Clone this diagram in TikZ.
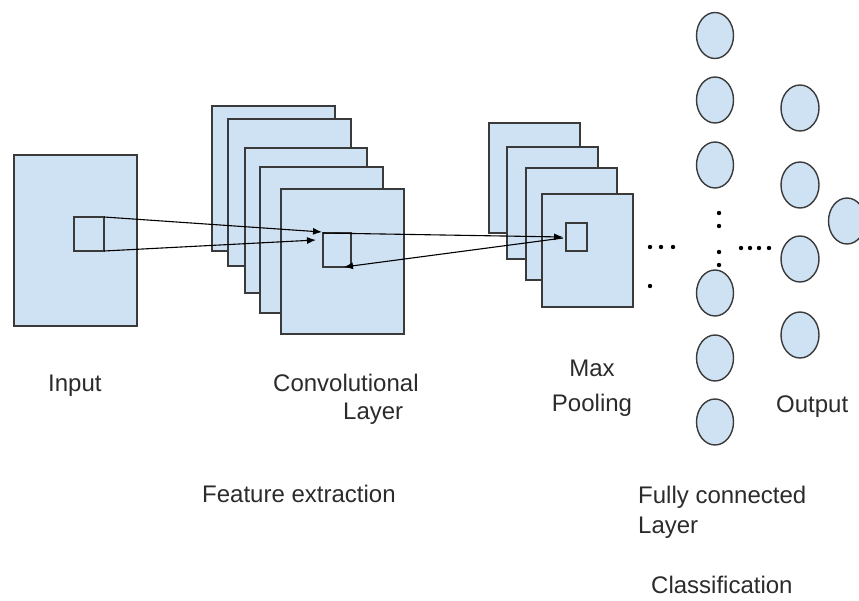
\documentclass[tikz,border=0pt]{standalone}
\usepackage{fontspec}
\setmainfont{Liberation Sans}
\usetikzlibrary{arrows.meta,calc,shapes.geometric}
\definecolor{cellfill}{HTML}{CFE2F3}
\definecolor{edge}{HTML}{3A3A3A}
\definecolor{ink}{HTML}{2B2B2B}

\begin{document}
\begin{tikzpicture}[x=1pt,y=-1pt,
  sheet/.style={draw=edge, fill=cellfill, line width=1.4pt, inner sep=0pt,
    outer sep=0pt, anchor=north west},
  patch/.style={draw=edge, fill=cellfill, line width=1.4pt, inner sep=0pt,
    outer sep=0pt, anchor=north west},
  unit/.style={ellipse, draw=edge, fill=cellfill, line width=1.4pt,
    minimum width=37pt, minimum height=46pt, inner sep=0pt},
  link/.style={draw=black, line width=1.1pt, -{Latex[length=9pt,width=7pt]}},
  lbl/.style={font=\fontsize{24}{28}\selectfont, text=ink, inner sep=0pt,
    anchor=base west},
  dotmark/.style={fill=black}
]
\useasboundingbox (0,0) rectangle (859,600);
\clip (0,0) rectangle (859,600);

% input image and its receptive field
\node[sheet, minimum width=123pt, minimum height=171pt] (in) at (14,155) {};
\node[patch, minimum width=30pt, minimum height=34pt] (insq) at (74,217) {};

% stack of convolution feature maps
\node[sheet, minimum width=123pt, minimum height=145pt] (c1) at (212,106) {};
\node[sheet, minimum width=123pt, minimum height=147pt] (c2) at (228,119) {};
\node[sheet, minimum width=122pt, minimum height=145pt] (c3) at (245,148) {};
\node[sheet, minimum width=123pt, minimum height=146pt] (c4) at (260,167) {};
\node[sheet, minimum width=123pt, minimum height=145pt] (c5) at (281,189) {};
\node[patch, minimum width=28pt, minimum height=34pt] (csq) at (323,233) {};

% stack of pooled maps
\node[sheet, minimum width=91pt, minimum height=110pt] (p1) at (489,123) {};
\node[sheet, minimum width=91pt, minimum height=112pt] (p2) at (507,147) {};
\node[sheet, minimum width=91pt, minimum height=112pt] (p3) at (526,168) {};
\node[sheet, minimum width=91pt, minimum height=113pt] (p4) at (542,194) {};
\node[patch, minimum width=21pt, minimum height=28pt] (psq) at (566,223) {};

% connections between the windows
\coordinate (inlow) at ($(csq.north west)+(-7,7)$);
\coordinate (cbot) at ($(csq.south west)+(21,0)$);
\draw[link] (insq.north east) -- ($(csq.north west)+(-1,-1)$);
\draw[link] (insq.south east) -- (inlow);
\draw[link] (csq.north west) -- ($(psq.west)+(-3,0)$);
\draw[link] ($(psq.west)+(-3,1)$) -- (cbot);

% fully connected layer
\foreach \n/\y in {1/35.5, 2/100, 3/165, 4/293, 5/358, 6/422}
  \node[unit] (f\n) at (715,\y) {};
% output layer
\foreach \n/\y in {1/108, 2/185, 3/259, 4/335}
  \node[unit, minimum width=38pt] (o\n) at (800,\y) {};
\node[unit] (res) at (847,221) {};

% ellipsis marks
\foreach \x in {650,661,673} \fill[dotmark] (\x,247) circle (2.2pt);
\fill[dotmark] (650,286) circle (2.2pt);
\foreach \y in {213,226,252,265} \fill[dotmark] (719,\y) circle (2.2pt);
\foreach \x in {741,750,759,769} \fill[dotmark] (\x,248) circle (2.2pt);

% labels
\node[lbl] (tin) at (48,391) {Input};
\node[lbl] (tconv) at (273,391) {Convolutional};
\node[lbl] (tconv2) at (343,419) {Layer};
\node[lbl, anchor=base] (tmax) at (592,376) {Max};
\node[lbl, anchor=base] (tpool) at (592,411) {Pooling};
\node[lbl] (tout) at (776,412) {Output};
\node[lbl] (tfeat) at (202,502) {Feature extraction};
\node[lbl] (tfc) at (638,503) {Fully connected};
\node[lbl] (tfc2) at (638,533) {Layer};
\node[lbl] (tcls) at (651,593) {Classification};
\end{tikzpicture}
\end{document}
